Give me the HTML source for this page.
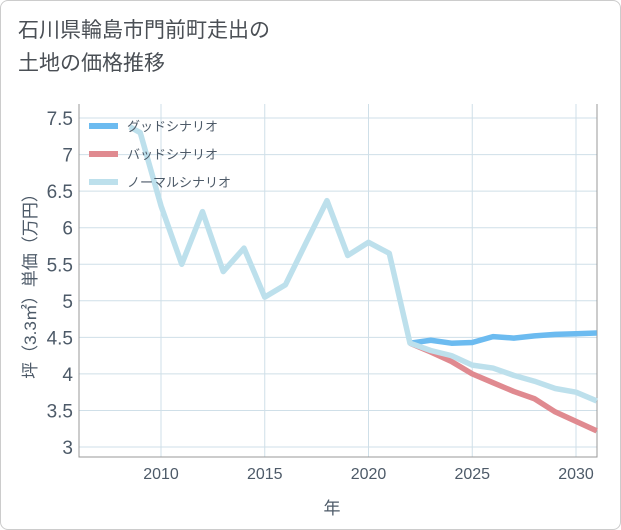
<!DOCTYPE html>
<html><head><meta charset="utf-8"><style>
body{margin:0;background:#fff;font-family:"Liberation Sans","Noto Sans CJK JP",sans-serif;}
#card{position:absolute;left:0;top:0;width:619px;height:528px;border:1px solid #ccc;border-radius:8px;background:#fff;}
#title{position:absolute;left:18px;top:14px;font-size:21px;line-height:33px;color:#4a4f55;}
</style></head><body>
<div id="card"></div>
<div id="title">石川県輪島市門前町走出の<br>土地の価格推移</div>
<svg id="chart" width="621" height="530" style="position:absolute;left:0;top:0"></svg>
<script>
const normalYears=[2008.5,2009,2010,2011,2012,2013,2014,2015,2016,2017,2018,2019,2020,2021,2022,2023,2024,2025,2026,2027,2028,2029,2030,2031];
const normalVals=[7.38,7.3,6.3,5.5,6.22,5.4,5.72,5.05,5.22,5.8,6.37,5.62,5.8,5.65,4.42,4.32,4.25,4.12,4.08,3.98,3.9,3.8,3.75,3.63];
const goodYears=[2022,2023,2024,2025,2026,2027,2028,2029,2030,2031];
const goodVals=[4.42,4.46,4.42,4.43,4.51,4.49,4.52,4.54,4.55,4.56];
const badYears=[2022,2023,2024,2025,2026,2027,2028,2029,2030,2031];
const badVals=[4.42,4.3,4.17,4.0,3.88,3.76,3.66,3.48,3.35,3.22];
const xTicks=[2010,2015,2020,2025,2030];
const yTicks=[3,3.5,4,4.5,5,5.5,6,6.5,7,7.5];
const L=79,R=597,T=104,B=457;
const x=v=>161+(v-2010)*20.75;
const y=v=>447-(v-3)*73.1;
const svg=document.getElementById('chart');
const NS='http://www.w3.org/2000/svg';
const TXT='#4d5a68';
function mk(t,a){const e=document.createElementNS(NS,t);for(const k in a)e.setAttribute(k,a[k]);svg.appendChild(e);return e;}
for(const t of yTicks){
 const g=mk('line',{x1:L,x2:R,y1:y(t),y2:y(t),stroke:'#cfdfe8','stroke-width':1});
 
 
 const tx=mk('text',{x:73,y:y(t)+7,'text-anchor':'end','font-size':19,fill:TXT});
 tx.textContent=t;
 
 
}
for(const t of xTicks){
 const g=mk('line',{x1:x(t),x2:x(t),y1:T,y2:B,stroke:'#cfdfe8','stroke-width':1});
 
 
 const tx=mk('text',{x:x(t),y:479,'text-anchor':'middle','font-size':16,fill:TXT});
 tx.textContent=t;
 
 
}
const ax=mk('path',{d:`M${L},${T}V${B}H${R}V${T}`,fill:'none',stroke:'#999','stroke-width':1});


function line(xs,vs,c,n){
 const p=mk('polyline',{points:xs.map((v,i)=>x(v)+','+y(vs[i])).join(' '),fill:'none',stroke:c,'stroke-width':5.5,'stroke-linejoin':'round'});
 
 
}
line(badYears,badVals,'#e08a90','bad-scenario-line');
line(goodYears,goodVals,'#6cbbf0','good-scenario-line');
line(normalYears,normalVals,'#bde0ec','normal-scenario-line');
const leg=[['グッドシナリオ','#6cbbf0'],['バッドシナリオ','#e08a90'],['ノーマルシナリオ','#bde0ec']];
leg.forEach((l,i)=>{
 const yy=126+i*28;
 const s=mk('line',{x1:89,x2:118,y1:yy,y2:yy,stroke:l[1],'stroke-width':6});
 
 
 const t=mk('text',{x:127,y:yy+5,'font-size':13,fill:TXT});
 t.textContent=l[0];
 
 
});
const yl=mk('text',{transform:'translate(36,282) rotate(-90)','text-anchor':'middle','font-size':17,fill:TXT});
yl.textContent='坪（3.3㎡）単価（万円）';


const xl=mk('text',{x:332,y:514,'text-anchor':'middle','font-size':17,fill:TXT});
xl.textContent='年';


</script>
</body></html>
